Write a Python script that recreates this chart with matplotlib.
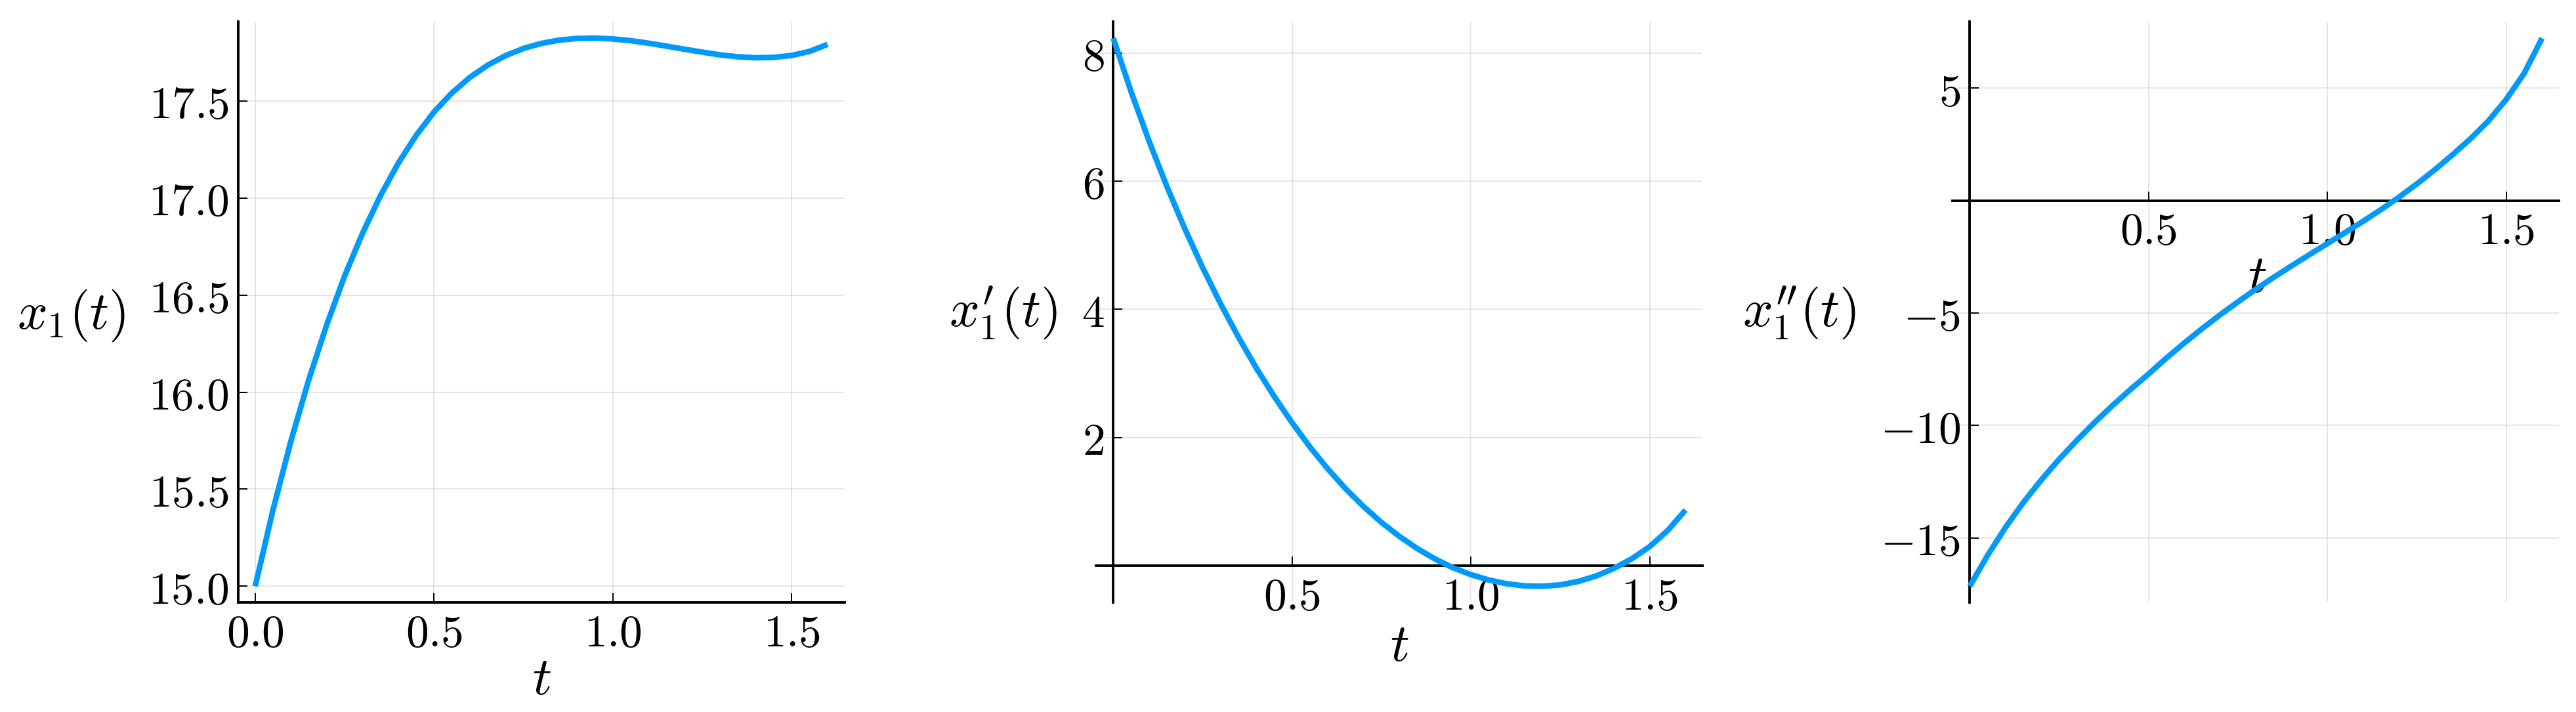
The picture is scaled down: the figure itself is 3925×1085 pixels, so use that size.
import matplotlib
matplotlib.use("Agg")
import matplotlib.pyplot as plt

plt.rcParams['mathtext.fontset'] = 'cm'
plt.rcParams['font.family'] = ['DejaVu Sans']

# values
t = [0.00, 0.05, 0.10, 0.15, 0.20, 0.25, 0.30, 0.35, 0.40, 0.45, 0.50,
     0.55, 0.60, 0.65, 0.70, 0.75, 0.80, 0.85, 0.90, 0.95, 1.00,
     1.05, 1.10, 1.15, 1.20, 1.25, 1.30, 1.35, 1.40, 1.45, 1.50,
     1.55, 1.60]

x1 = [15.000, 15.395, 15.749, 16.065, 16.347, 16.598, 16.818, 17.011, 17.179, 17.322, 17.443,
      17.541, 17.621, 17.684, 17.733, 17.770, 17.796, 17.813, 17.8215, 17.823, 17.819,
      17.810, 17.797, 17.782, 17.766, 17.751, 17.737, 17.727, 17.722, 17.724, 17.734,
      17.755, 17.791]

dx1 = [8.23, 7.393, 6.626, 5.915, 5.258, 4.650, 4.087, 3.566, 3.084, 2.640, 2.231,
       1.852, 1.509, 1.199, 0.922, 0.675, 0.458, 0.268, 0.105, -0.031, -0.139,
       -0.222, -0.281, -0.314, -0.320, -0.298, -0.245, -0.160, -0.040, 0.11, 0.30,
       0.55, 0.87]

ddx1 = [-17.15, -15.77, -14.53, -13.42, -12.42, -11.50, -10.65, -9.85, -9.10, -8.39, -7.71,
        -7.00, -6.33, -5.69, -5.08, -4.50, -3.94, -3.41, -2.90, -2.40, -1.91,
        -1.42, -0.92, -0.40, 0.15, 0.74, 1.37, 2.04, 2.75, 3.54, 4.50,
        5.66, 7.22]

x1_xticks = [0.0, 0.5, 1.0, 1.5]
x1_xlabels = ['$0.0$', '$0.5$', '$1.0$', '$1.5$']
x1_yticks = [15.0, 15.5, 16.0, 16.5, 17.0, 17.5]
x1_ylabels = ['$15.0$', '$15.5$', '$16.0$', '$16.5$', '$17.0$', '$17.5$']

d_xticks = [0.5, 1.0, 1.5]
d_xlabels = ['$0.5$', '$1.0$', '$1.5$']
dx1_yticks = [2, 4, 6, 8]
dx1_ylabels = ['$2$', '$4$', '$6$', '$8$']
ddx1_yticks = [-15, -10, -5, 5]
ddx1_ylabels = ['$-15$', '$-10$', '$-5$', '$5$']

line_color = '#009AFA'
tick_size = 25
label_size = 29

fig = plt.figure(figsize=(19.625, 5.425), dpi=200)
ax_w, ax_h, ax_b = 0.2355, 0.816, 0.1535
axes = [fig.add_axes([0.0924, ax_b, ax_w, ax_h]),
        fig.add_axes([0.4255, ax_b, ax_w, ax_h]),
        fig.add_axes([0.7580, ax_b, ax_w, ax_h])]

series = [x1, dx1, ddx1]
ylabels = ['$x_1(t)$', "$x_1'(t)$", "$x_1''(t)$"]
xtick_sets = [(x1_xticks, x1_xlabels), (d_xticks, d_xlabels), (d_xticks, d_xlabels)]
ytick_sets = [(x1_yticks, x1_ylabels), (dx1_yticks, dx1_ylabels), (ddx1_yticks, ddx1_ylabels)]
# label centres in axes fraction
xlabel_pos = [(0.5, -0.133), (0.5, -0.075), (0.502, 0.56)]
ylabel_pos = [(-0.275, 0.495), (-0.153, 0.499), (-0.253, 0.499)]

for i, ax in enumerate(axes):
    ax.plot(t, series[i], color=line_color, lw=3.1, zorder=3,
            solid_joinstyle='round', solid_capstyle='butt')
    ax.margins(x=0.03, y=0.03)

    ax.set_xticks(xtick_sets[i][0], labels=xtick_sets[i][1])
    ax.set_yticks(ytick_sets[i][0], labels=ytick_sets[i][1])
    ax.tick_params(direction='in', length=5, width=0.7, labelsize=tick_size,
                   pad=5, color='black')
    ax.grid(True, color='black', alpha=0.1, lw=0.7)
    ax.set_axisbelow(True)

    for side in ['top', 'right']:
        ax.spines[side].set_visible(False)
    for side in ['left', 'bottom']:
        ax.spines[side].set_linewidth(1.4)
    if i > 0:
        # axes drawn through the origin
        ax.spines['left'].set_position(('data', 0))
        ax.spines['bottom'].set_position(('data', 0))

    ax.set_xlabel('$t$', fontsize=label_size, va='center', ha='center')
    ax.xaxis.set_label_coords(*xlabel_pos[i])
    ax.set_ylabel(ylabels[i], fontsize=label_size, rotation=0, va='center', ha='center')
    ax.yaxis.set_label_coords(*ylabel_pos[i])

fig.savefig('out.png', dpi=200)
